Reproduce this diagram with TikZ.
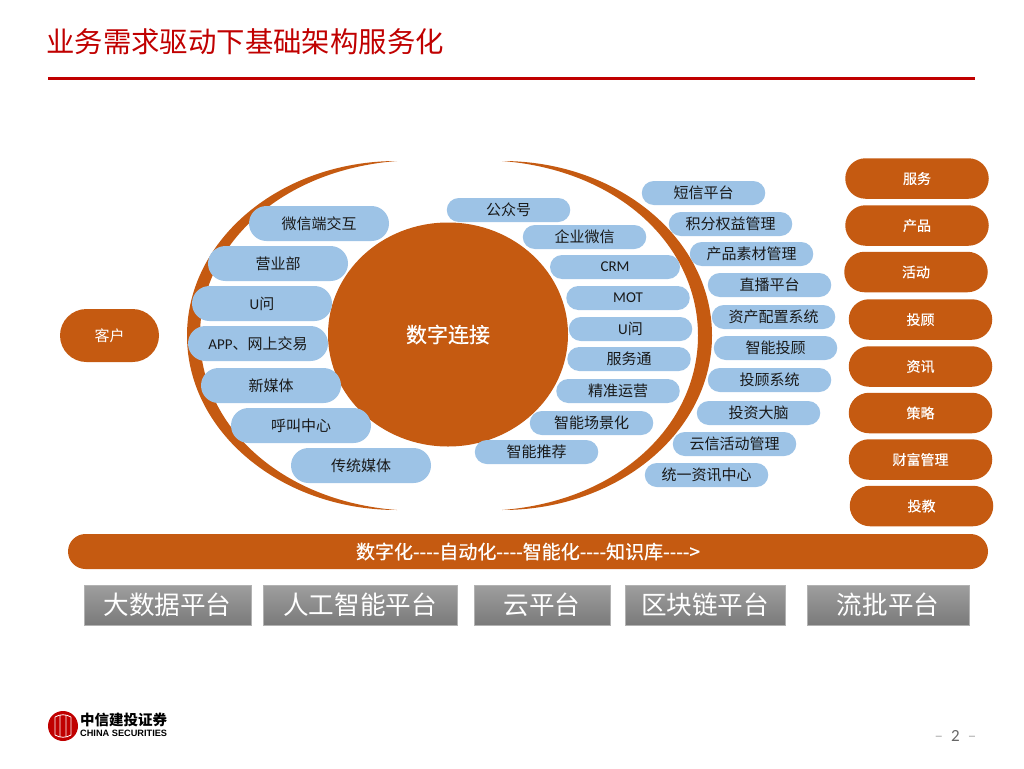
\documentclass[tikz,border=0pt]{standalone}
\usepackage{fontspec}
\setmainfont{Noto Sans CJK SC}
\newfontfamily\latinfont{Carlito}
\newfontfamily\logofont{Liberation Sans}
\newfontfamily\heavyfont[FakeBold=0.5]{Noto Sans CJK SC}
\usetikzlibrary{shapes.misc, shapes.geometric}
\definecolor{rust}{HTML}{C55A11}
\definecolor{paleblue}{HTML}{9DC3E6}
\definecolor{titlered}{HTML}{C00000}
\begin{document}
\begin{tikzpicture}[
x=1pt, y=-1pt,
blue pill/.style={rounded rectangle, fill=paleblue, inner sep=0pt, text=black!90, font=\fontsize{15}{15}\selectfont},
big pill/.style={blue pill, minimum width=140pt, minimum height=35pt},
small pill/.style={blue pill, minimum width=123.5pt, minimum height=24pt},
rust pill/.style={rounded rectangle, fill=rust, inner sep=0pt, text=white, minimum width=143.5pt, minimum height=40.5pt, font=\heavyfont\fontsize{14}{14}\selectfont},
gray box/.style={rectangle, inner sep=0pt, top color=black!38, bottom color=black!52, draw=black!30, line width=0.5pt, text=white, minimum height=39.5pt, font=\fontsize{25.6}{26}\selectfont},
]
\useasboundingbox (0,0) rectangle (1024,768);
\node[anchor=west, inner sep=0pt, text=titlered, font=\fontsize{28.4}{29}\selectfont] (title) at (46,42) {业务需求驱动下基础架构服务化};
\coordinate (ruleleft) at (48,78);
\coordinate (ruleright) at (975,78);
\draw[titlered, line width=3pt] (ruleleft) -- (ruleright);

\fill[rust] (397,161) .. controls (281,161) and (187,239) .. (187,335.5) .. controls (187,432) and (281,510) .. (397,510)
  .. controls (280,501) and (200,425) .. (200,335.5) .. controls (200,246) and (280,170) .. (397,161) -- cycle;
\fill[rust] (502,161) .. controls (618,161) and (712,239) .. (712,335.5) .. controls (712,432) and (618,510) .. (502,510)
  .. controls (619,501) and (698,425) .. (698,335.5) .. controls (698,246) and (619,170) .. (502,161) -- cycle;

\node[ellipse, fill=rust, inner sep=0pt, minimum width=240pt, minimum height=224pt, text=white, font=\heavyfont\fontsize{21}{21}\selectfont] (digital) at (448,334.5) {数字连接};
\node[rounded rectangle, fill=rust, inner sep=0pt, minimum width=99pt, minimum height=53pt, text=white, font=\fontsize{15}{15}\selectfont] (customer) at (109.5,335.5) {客户};

\node[big pill] (wechat) at (319,223.5) {微信端交互};
\node[big pill] (branch) at (278,263.5) {营业部};
\node[big pill] (uwen) at (262,303.5) {{\latinfont U}问};
\node[big pill] (app) at (258,343.5) {{\latinfont APP}、网上交易};
\node[big pill] (newmedia) at (271,385.5) {新媒体};
\node[big pill] (callcenter) at (301,425.5) {呼叫中心};
\node[big pill] (oldmedia) at (361,465.5) {传统媒体};

\node[small pill] (official) at (508.5,210) {公众号};
\node[small pill] (enterprise) at (584.5,237) {企业微信};
\node[small pill, minimum width=130pt] (crm) at (615,267) {{\latinfont CRM}};
\node[small pill] (mot) at (628,298) {{\latinfont MOT}};
\node[small pill] (uwentwo) at (630.5,329) {{\latinfont U}问};
\node[small pill] (service) at (629,359) {服务通};
\node[small pill] (operation) at (618,391) {精准运营};
\node[small pill] (scene) at (591.5,423) {智能场景化};
\node[small pill] (recommend) at (536.5,452) {智能推荐};

\node[small pill] (sms) at (703.5,193) {短信平台};
\node[small pill] (points) at (730.5,224) {积分权益管理};
\node[small pill] (material) at (751.5,254) {产品素材管理};
\node[small pill] (live) at (769.5,285) {直播平台};
\node[small pill] (allocation) at (773.5,317) {资产配置系统};
\node[small pill] (advisor) at (775.5,348) {智能投顾};
\node[small pill] (advisorsys) at (769.5,380) {投顾系统};
\node[small pill] (brain) at (758.5,413) {投资大脑};
\node[small pill] (activity) at (734.5,444) {云信活动管理};
\node[small pill] (news) at (706.5,475) {统一资讯中心};

\node[rust pill] (fuwu) at (917,178.5) {服务};
\node[rust pill] (chanpin) at (917,225.5) {产品};
\node[rust pill] (huodong) at (916,272) {活动};
\node[rust pill] (tougu) at (920.5,319.5) {投顾};
\node[rust pill] (zixun) at (920.5,366.5) {资讯};
\node[rust pill] (celue) at (920.5,413) {策略};
\node[rust pill] (caifu) at (920.5,459.5) {财富管理};
\node[rust pill] (toujiao) at (921.5,506) {投教};

\node[rust pill, minimum width=920pt, minimum height=35pt, font=\heavyfont\fontsize{19}{19}\selectfont] (bar) at (528,551.5) {数字化{-}{-}{-}{-}自动化{-}{-}{-}{-}智能化{-}{-}{-}{-}知识库{-}{-}{-}{-}>};

\node[gray box, minimum width=167pt] (bigdata) at (167.5,605) {大数据平台};
\node[gray box, minimum width=194pt] (ai) at (360,605) {人工智能平台};
\node[gray box, minimum width=136pt] (cloud) at (542,605) {云平台};
\node[gray box, minimum width=160pt] (chain) at (705,605) {区块链平台};
\node[gray box, minimum width=162pt] (stream) at (888,605) {流批平台};

\node[circle, fill=titlered, inner sep=0pt, minimum size=30pt] (badge) at (63,726) {};
\draw[white, line width=0.8pt] (55,717) .. controls (60,714) and (66,714) .. (71,717) (55,735) .. controls (60,738) and (66,738) .. (71,735)
  (55,717) -- (55,735) (60,715) -- (60,737) (66,715) -- (66,737) (71,717) -- (71,735);
\node[anchor=west, inner sep=0pt, font=\fontsize{14.5}{14.5}\bfseries\selectfont] (cnname) at (80,720) {中信建投证券};
\node[anchor=west, inner sep=0pt, font=\logofont\fontsize{9.2}{9.2}\bfseries\selectfont] (enname) at (80,733) {CHINA SECURITIES};
\node[inner sep=0pt, text=black!60, font=\latinfont\fontsize{17}{17}\selectfont] (page) at (955.5,736) {{\color{black!30}–}\hspace{8pt}2\hspace{8pt}{\color{black!30}–}};
\end{tikzpicture}
\end{document}
